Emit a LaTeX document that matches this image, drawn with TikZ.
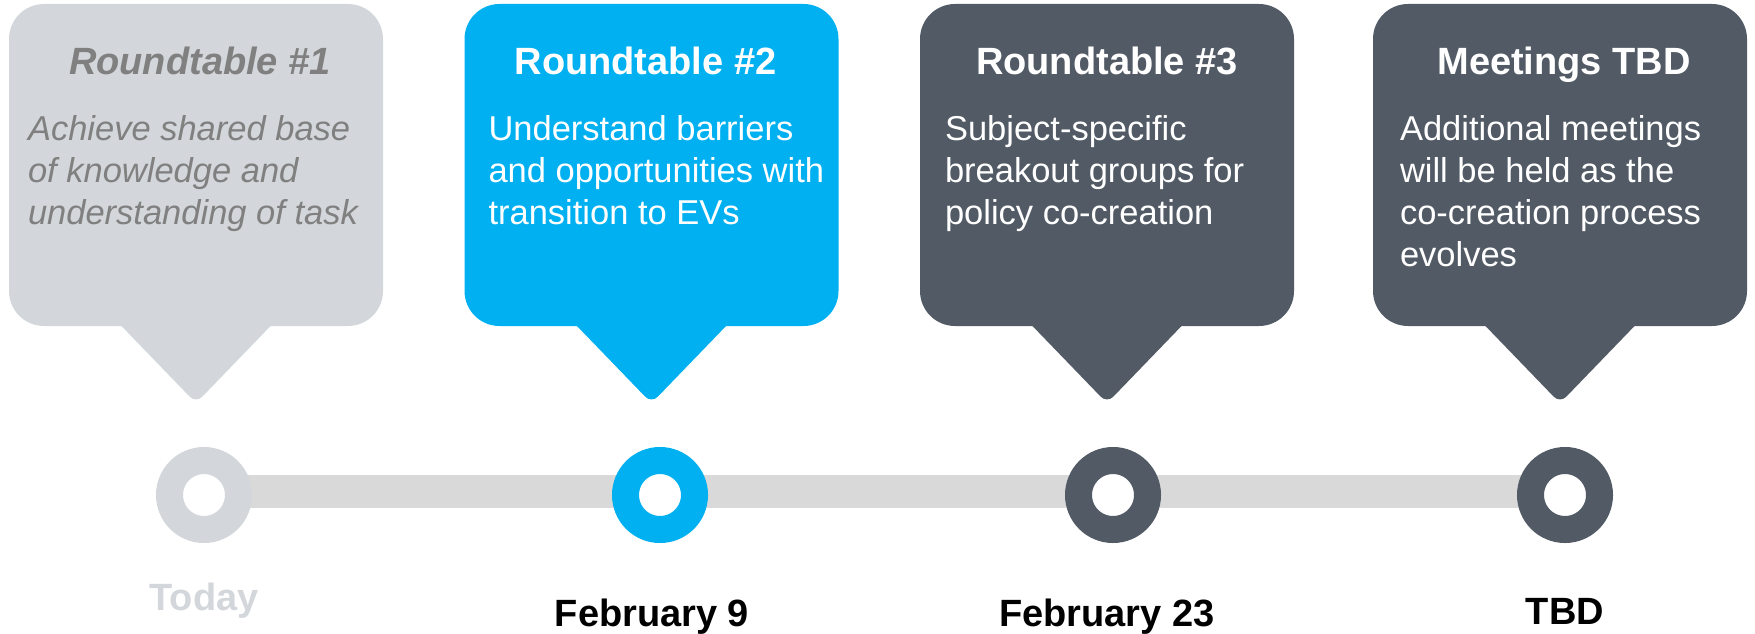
\documentclass[tikz,border=0pt]{standalone}
\usepackage{fontspec}
\setmainfont{Liberation Sans}
\usetikzlibrary{positioning,backgrounds}

\definecolor{paleGray}{RGB}{211,214,218}
\definecolor{midGray}{RGB}{128,128,128}
\definecolor{skyBlue}{RGB}{0,176,240}
\definecolor{slate}{RGB}{81,90,101}
\definecolor{barGray}{RGB}{217,217,217}

\tikzset{
  callout/.style = {rectangle, rounded corners = 35pt, minimum width = 374pt,
    minimum height = 322pt, inner sep = 0pt, fill = #1},
  ring/.style = {circle, minimum size = 69pt, inner sep = 0pt,
    line width = 27pt, draw = #1, fill = white},
  headline/.style = {font = \fontsize{38}{46}\selectfont\bfseries, anchor = base, inner sep = 0pt},
  bodytext/.style = {font = \fontsize{34.5}{42}\selectfont, align = left,
    anchor = base west, inner sep = 0pt},
  datelabel/.style = {font = \fontsize{38}{46}\selectfont\bfseries, anchor = base, inner sep = 0pt}
}

\begin{document}
\begin{tikzpicture}[x = 1pt, y = -1pt]

\useasboundingbox (0, 0) rectangle (1755, 634);

% callouts
\node[callout = paleGray] (b1) at (196, 165) {};
\node[callout = skyBlue] (b2) at (651.5, 165) {};
\node[callout = slate] (b3) at (1107, 165) {};
\node[callout = slate] (b4) at (1560, 165) {};

\fill[paleGray, rounded corners = 9pt] ([xshift = -84pt, yshift = 10pt]b1.south) -- ([yshift = -77pt]b1.south) -- ([xshift = 84pt, yshift = 10pt]b1.south) -- cycle;
\fill[skyBlue, rounded corners = 9pt] ([xshift = -84pt, yshift = 10pt]b2.south) -- ([yshift = -77pt]b2.south) -- ([xshift = 84pt, yshift = 10pt]b2.south) -- cycle;
\fill[slate, rounded corners = 9pt] ([xshift = -84pt, yshift = 10pt]b3.south) -- ([yshift = -77pt]b3.south) -- ([xshift = 84pt, yshift = 10pt]b3.south) -- cycle;
\fill[slate, rounded corners = 9pt] ([xshift = -84pt, yshift = 10pt]b4.south) -- ([yshift = -77pt]b4.south) -- ([xshift = 84pt, yshift = 10pt]b4.south) -- cycle;

% titles
\node[headline, text = midGray, font = \fontsize{38}{46}\selectfont\bfseries\itshape] (t1) at ([xshift = 4pt, yshift = -71pt]b1.north) {Roundtable \#1};
\node[headline, text = white] (t2) at ([xshift = -6pt, yshift = -71pt]b2.north) {Roundtable \#2};
\node[headline, text = white] (t3) at ([yshift = -71pt]b3.north) {Roundtable \#3};
\node[headline, text = white] (t4) at ([xshift = 4pt, yshift = -71pt]b4.north) {Meetings TBD};

% descriptions (base = last line)
\node[bodytext, text = midGray, font = \fontsize{34.5}{42}\selectfont\itshape] (d1) at ([xshift = 19pt, yshift = -221pt]b1.north west) {Achieve shared base\\of knowledge and\\understanding of task};
\node[bodytext, text = white] (d2) at ([xshift = 24pt, yshift = -221pt]b2.north west) {Understand barriers\\and opportunities with\\transition to EVs};
\node[bodytext, text = white] (d3) at ([xshift = 25pt, yshift = -221pt]b3.north west) {Subject-specific\\breakout groups for\\policy co-creation};
\node[bodytext, text = white] (d4) at ([xshift = 27pt, yshift = -263pt]b4.north west) {Additional meetings\\will be held as the\\co-creation process\\evolves};

% timeline
\node[ring = paleGray] (c1) at (204, 495) {};
\node[ring = skyBlue] (c2) at (660, 495) {};
\node[ring = slate] (c3) at (1113, 495) {};
\node[ring = slate] (c4) at (1565, 495) {};

\begin{scope}[on background layer]
\draw[barGray, line width = 33pt] ([yshift = 4pt]c1.center) -- ([yshift = 4pt]c4.center);
\end{scope}

% dates
\node[datelabel, text = paleGray] (l1) at ([yshift = -115pt]c1.center) {Today};
\node[datelabel] (l2) at ([xshift = -8pt, yshift = -131pt]c2.center) {February 9};
\node[datelabel] (l3) at ([xshift = -6pt, yshift = -131pt]c3.center) {February 23};
\node[datelabel] (l4) at ([yshift = -129pt]c4.center) {TBD};

\end{tikzpicture}
\end{document}
